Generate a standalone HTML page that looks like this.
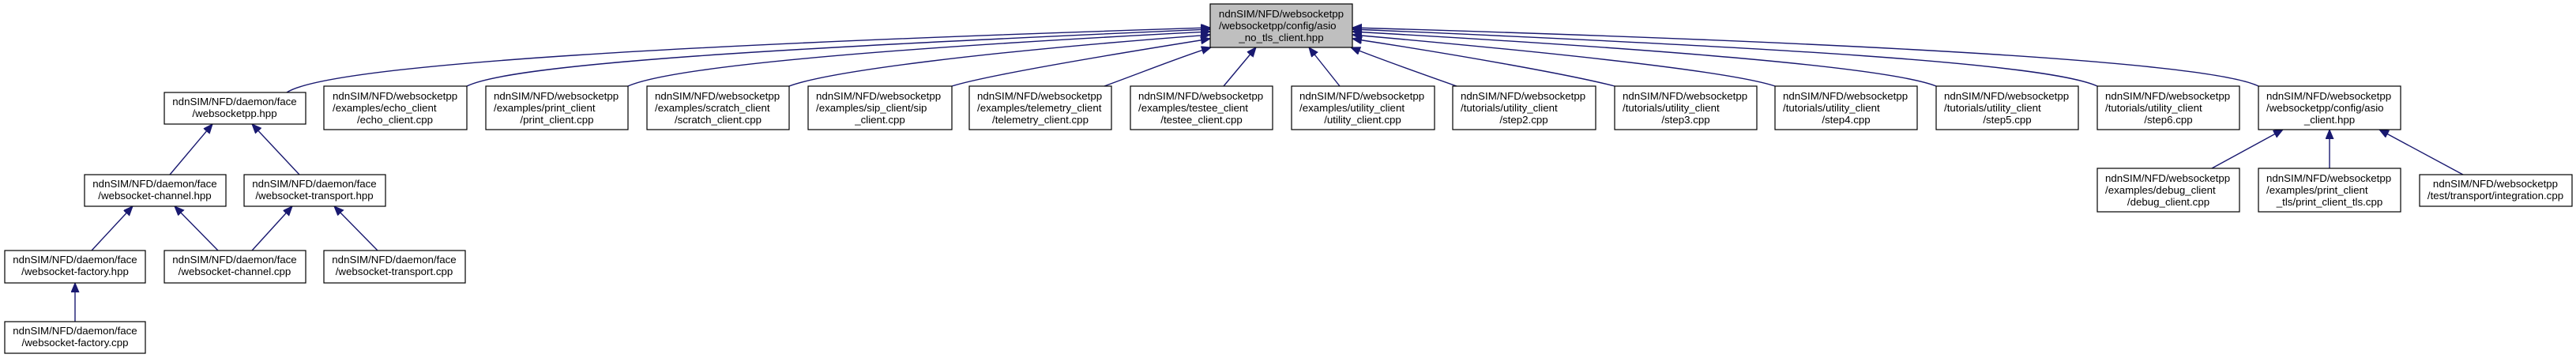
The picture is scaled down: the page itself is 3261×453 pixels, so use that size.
<!DOCTYPE html>
<html><head><meta charset="utf-8"><style>
html,body{margin:0;padding:0;background:#fff;}
svg{display:block;}
text{font-family:"Liberation Sans",Arial,sans-serif;font-size:13.3px;fill:#000;}
.b{fill:#fff;stroke:#000;stroke-width:1.2;}
.e{fill:none;stroke:#191970;stroke-width:1.4;}
</style></head><body>
<svg width="3261" height="453" viewBox="0 0 3261 453" xmlns="http://www.w3.org/2000/svg">
<defs>
<marker id="a" markerUnits="userSpaceOnUse" markerWidth="14" markerHeight="12" refX="12" refY="5" orient="auto">
<path d="M0,0 L12,5 L0,10 Z" fill="#191970" stroke="#191970"/>
</marker>
</defs>
<g class="e" marker-end="url(#a)">
<!-- left edges to root -->
<path d="M363,117 C420,80 900,55 1532,35"/>
<path d="M591,109 C650,80 1000,60 1532,37"/>
<path d="M795,109 C850,85 1100,62 1532,40"/>
<path d="M999,109 C1050,90 1250,65 1532,44"/>
<path d="M1205,109 C1250,95 1400,70 1532,49"/>
<path d="M1398,109 C1450,90 1500,70 1533,60"/>
<path d="M1549,109 L1590,60"/>
<path d="M1696,109 L1657,60"/>
<path d="M1844,109 C1790,90 1740,72 1710,60"/>
<!-- right edges -->
<path d="M2044,109 C1990,95 1850,70 1712,49"/>
<path d="M2247,109 C2190,90 1950,65 1712,44"/>
<path d="M2451,109 C2390,85 2100,62 1712,40"/>
<path d="M2655,109 C2590,80 2250,60 1712,37"/>
<path d="M2859,109 C2800,80 2400,55 1712,35"/>
<!-- lower -->
<path d="M215,221 L269,157"/>
<path d="M379,221 L319,157"/>
<path d="M116,317 L168,261"/>
<path d="M276,317 L221,261"/>
<path d="M319,317 L370,261"/>
<path d="M478,317 L423,261"/>
<path d="M95,407 L95,358"/>
<path d="M2800,213 L2890,164"/>
<path d="M2949,213 L2949,164"/>
<path d="M3118,221 L3012,164"/>
</g>

<!-- root -->
<rect x="1532" y="5" width="180" height="55" fill="#bfbfbf" stroke="#000" stroke-width="1.2"/>
<text x="1622" y="22" text-anchor="middle">ndnSIM/NFD/websocketpp</text>
<text x="1543" y="37">/websocketpp/config/asio</text>
<text x="1622" y="52" text-anchor="middle">_no_tls_client.hpp</text>

<!-- 2-line boxes -->
<g text-anchor="middle">
<rect class="b" x="208" y="117" width="179" height="40"/><text x="297" y="133">ndnSIM/NFD/daemon/face</text><text x="297" y="148">/websocketpp.hpp</text>
<rect class="b" x="107" y="221" width="179" height="40"/><text x="196" y="237">ndnSIM/NFD/daemon/face</text><text x="196" y="252">/websocket-channel.hpp</text>
<rect class="b" x="309" y="221" width="179" height="40"/><text x="398" y="237">ndnSIM/NFD/daemon/face</text><text x="398" y="252">/websocket-transport.hpp</text>
<rect class="b" x="6" y="317" width="178" height="41"/><text x="95" y="333">ndnSIM/NFD/daemon/face</text><text x="95" y="348">/websocket-factory.hpp</text>
<rect class="b" x="208" y="317" width="179" height="41"/><text x="297" y="333">ndnSIM/NFD/daemon/face</text><text x="297" y="348">/websocket-channel.cpp</text>
<rect class="b" x="410" y="317" width="179" height="41"/><text x="499" y="333">ndnSIM/NFD/daemon/face</text><text x="499" y="348">/websocket-transport.cpp</text>
<rect class="b" x="6" y="407" width="178" height="40"/><text x="95" y="423">ndnSIM/NFD/daemon/face</text><text x="95" y="438">/websocket-factory.cpp</text>
<rect class="b" x="3063" y="221" width="193" height="40"/><text x="3159" y="237">ndnSIM/NFD/websocketpp</text><text x="3159" y="252">/test/transport/integration.cpp</text>
</g>

<!-- 3-line boxes -->
<g>
<rect class="b" x="410" y="109" width="181" height="55"/><text x="421" y="126">ndnSIM/NFD/websocketpp</text><text x="421" y="141">/examples/echo_client</text><text x="500" y="156" text-anchor="middle">/echo_client.cpp</text>
<rect class="b" x="615" y="109" width="180" height="55"/><text x="625" y="126">ndnSIM/NFD/websocketpp</text><text x="625" y="141">/examples/print_client</text><text x="705" y="156" text-anchor="middle">/print_client.cpp</text>
<rect class="b" x="819" y="109" width="180" height="55"/><text x="829" y="126">ndnSIM/NFD/websocketpp</text><text x="829" y="141">/examples/scratch_client</text><text x="909" y="156" text-anchor="middle">/scratch_client.cpp</text>
<rect class="b" x="1023" y="109" width="182" height="55"/><text x="1033" y="126">ndnSIM/NFD/websocketpp</text><text x="1033" y="141">/examples/sip_client/sip</text><text x="1114" y="156" text-anchor="middle">_client.cpp</text>
<rect class="b" x="1227" y="109" width="180" height="55"/><text x="1237" y="126">ndnSIM/NFD/websocketpp</text><text x="1237" y="141">/examples/telemetry_client</text><text x="1317" y="156" text-anchor="middle">/telemetry_client.cpp</text>
<rect class="b" x="1431" y="109" width="180" height="55"/><text x="1441" y="126">ndnSIM/NFD/websocketpp</text><text x="1441" y="141">/examples/testee_client</text><text x="1521" y="156" text-anchor="middle">/testee_client.cpp</text>
<rect class="b" x="1635" y="109" width="181" height="55"/><text x="1645" y="126">ndnSIM/NFD/websocketpp</text><text x="1645" y="141">/examples/utility_client</text><text x="1725" y="156" text-anchor="middle">/utility_client.cpp</text>
<rect class="b" x="1839" y="109" width="181" height="55"/><text x="1849" y="126">ndnSIM/NFD/websocketpp</text><text x="1849" y="141">/tutorials/utility_client</text><text x="1929" y="156" text-anchor="middle">/step2.cpp</text>
<rect class="b" x="2044" y="109" width="180" height="55"/><text x="2054" y="126">ndnSIM/NFD/websocketpp</text><text x="2054" y="141">/tutorials/utility_client</text><text x="2134" y="156" text-anchor="middle">/step3.cpp</text>
<rect class="b" x="2247" y="109" width="180" height="55"/><text x="2257" y="126">ndnSIM/NFD/websocketpp</text><text x="2257" y="141">/tutorials/utility_client</text><text x="2337" y="156" text-anchor="middle">/step4.cpp</text>
<rect class="b" x="2451" y="109" width="180" height="55"/><text x="2461" y="126">ndnSIM/NFD/websocketpp</text><text x="2461" y="141">/tutorials/utility_client</text><text x="2541" y="156" text-anchor="middle">/step5.cpp</text>
<rect class="b" x="2655" y="109" width="180" height="55"/><text x="2665" y="126">ndnSIM/NFD/websocketpp</text><text x="2665" y="141">/tutorials/utility_client</text><text x="2745" y="156" text-anchor="middle">/step6.cpp</text>
<rect class="b" x="2859" y="109" width="180" height="55"/><text x="2869" y="126">ndnSIM/NFD/websocketpp</text><text x="2869" y="141">/websocketpp/config/asio</text><text x="2949" y="156" text-anchor="middle">_client.hpp</text>
<rect class="b" x="2655" y="213" width="180" height="55"/><text x="2665" y="230">ndnSIM/NFD/websocketpp</text><text x="2665" y="245">/examples/debug_client</text><text x="2745" y="260" text-anchor="middle">/debug_client.cpp</text>
<rect class="b" x="2859" y="213" width="180" height="55"/><text x="2869" y="230">ndnSIM/NFD/websocketpp</text><text x="2869" y="245">/examples/print_client</text><text x="2949" y="260" text-anchor="middle">_tls/print_client_tls.cpp</text>
</g>
</svg>
</body></html>
